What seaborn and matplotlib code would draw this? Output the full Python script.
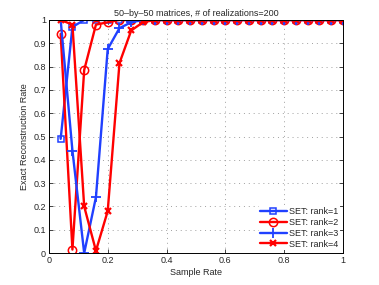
import pandas as pd
import matplotlib
matplotlib.use("Agg")
import matplotlib.pyplot as plt
import seaborn as sns

# --------------------------------------------------
# Data
# --------------------------------------------------
sample_rate = [0.04, 0.08, 0.12, 0.16, 0.20, 0.24, 0.28, 0.32, 0.36, 0.40,
               0.44, 0.48, 0.52, 0.56, 0.60, 0.64, 0.68, 0.72, 0.76, 0.80,
               0.84, 0.88, 0.92, 0.96, 1.00]
rank1 = [0.49, 0.97, 1.0, 1.0, 1.0, 1.0, 1.0, 1.0, 1.0, 1.0,
         1.0, 1.0, 1.0, 1.0, 1.0, 1.0, 1.0, 1.0, 1.0, 1.0,
         1.0, 1.0, 1.0, 1.0, 1.0]
rank2 = [0.94, 0.015, 0.785, 0.98, 0.99, 1.0, 1.0, 1.0, 1.0, 1.0,
         1.0, 1.0, 1.0, 1.0, 1.0, 1.0, 1.0, 1.0, 1.0, 1.0,
         1.0, 1.0, 1.0, 1.0, 1.0]
rank3 = [1.0, 0.44, 0.0, 0.24, 0.875, 0.965, 0.99, 1.0, 1.0, 1.0,
         1.0, 1.0, 1.0, 1.0, 1.0, 1.0, 1.0, 1.0, 1.0, 1.0,
         1.0, 1.0, 1.0, 1.0, 1.0]
rank4 = [1.0, 0.98, 0.20, 0.01, 0.18, 0.815, 0.955, 0.99, 1.0, 1.0,
         1.0, 1.0, 1.0, 1.0, 1.0, 1.0, 1.0, 1.0, 1.0, 1.0,
         1.0, 1.0, 1.0, 1.0, 1.0]
labels = ["SET: rank=1", "SET: rank=2", "SET: rank=3", "SET: rank=4"]

# --------------------------------------------------
# Style
# --------------------------------------------------
sns.set_style("ticks")
plt.rcParams["font.family"] = ["Liberation Sans", "DejaVu Sans"]
plt.rcParams["font.size"] = 6.5
plt.rcParams["xtick.direction"] = "in"
plt.rcParams["ytick.direction"] = "in"

fig = plt.figure(figsize=(3.79, 2.85), dpi=100)
ax = fig.add_axes([0.129, 0.112, 0.776, 0.818])

series = [
    (rank1, "#2040ff", "s", 5.0, 1.1),
    (rank2, "#ff0000", "o", 6.0, 1.1),
    (rank3, "#2040ff", "+", 7.0, 1.3),
    (rank4, "#ff0000", "x", 4.5, 1.6),
]

for (vals, color, marker, ms, mew), lab in zip(series, labels):
    df = pd.DataFrame({"rate": sample_rate, "acc": vals})
    sns.lineplot(data=df, x="rate", y="acc", ax=ax, color=color, marker=marker,
                 markersize=ms, markeredgewidth=mew, markerfacecolor="none",
                 markeredgecolor=color, linewidth=1.7, label=lab)

ax.set_xlim(0, 1)
ax.set_ylim(0, 1)
ax.set_xticks([0, 0.2, 0.4, 0.6, 0.8, 1])
ax.set_xticklabels(["0", "0.2", "0.4", "0.6", "0.8", "1"])
ax.set_yticks([0, 0.1, 0.2, 0.3, 0.4, 0.5, 0.6, 0.7, 0.8, 0.9, 1])
ax.set_yticklabels(["0", "0.1", "0.2", "0.3", "0.4", "0.5", "0.6", "0.7",
                    "0.8", "0.9", "1"])
ax.tick_params(top=True, right=True, length=3, width=0.6, labelsize=6.5, pad=2)
ax.grid(True, linestyle=(0, (1, 4)), color="#a0a0a0", linewidth=0.7)
for sp in ax.spines.values():
    sp.set_linewidth(0.7)
    sp.set_color("black")

ax.set_xlabel("Sample Rate", fontsize=6.5, labelpad=2)
ax.set_ylabel("Exact Reconstruction Rate", fontsize=6.5, labelpad=3)
ax.set_title("50\u2013by\u201350 matrices, # of realizations=200", fontsize=6.5, pad=3)

leg = ax.legend(loc="lower right", fontsize=6.5, handlelength=2.9,
                frameon=True, fancybox=False, framealpha=1,
                borderaxespad=0.3, labelspacing=0.2, handletextpad=0.3,
                borderpad=0.2)
leg.get_frame().set_edgecolor("white")
leg.get_frame().set_linewidth(0)

fig.savefig("out.png", dpi=100)
